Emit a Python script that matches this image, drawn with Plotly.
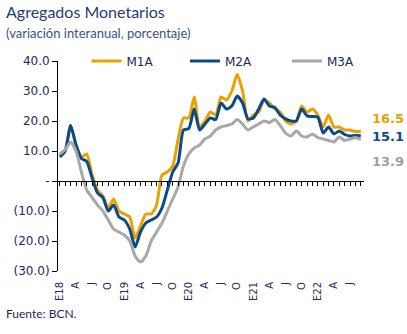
import plotly.graph_objects as go

months = list(range(57))  # Jan 2018 .. Sep 2022, monthly index
tick_pos = list(range(0, 57, 3))
tick_text = ["E18", "A", "J", "O", "E19", "A", "J", "O", "E20", "A", "J", "O",
             "E21", "A", "J", "O", "E22", "A", "J"]

m1a = [8.5, 10.5, 18.5, 12, 8, 9, 2, -3, -5, -9, -6, -10, -11, -12, -19, -15,
       -11, -11, -8, 2, 3, 5, 14, 21, 21, 28, 18, 20, 23, 22, 28, 27, 30, 35.5,
       30, 20, 22, 23, 27, 26, 24, 23, 20, 19, 20, 25, 23, 24, 22, 18, 22, 18,
       18, 17, 17, 16.5, 16.5]
m2a = [8, 10, 18.5, 12, 7.5, 6.5, 1, -4, -5.5, -10, -8, -12, -13, -16, -22,
       -17, -14, -13, -12, -9, -3, 3, 6, 17, 17.5, 24, 17, 19, 21, 20.5, 26,
       24, 25, 28.3, 26, 20.7, 21, 24, 27.3, 25, 24.5, 22, 20.7, 20, 20, 24,
       21.7, 21.5, 21.3, 16, 18, 15.7, 16.7, 15.5, 15, 15.2, 15.1]
m3a = [9, 10.5, 13, 10, 3, -3, -5.5, -8, -10, -13, -16, -17, -18, -20, -25,
       -27, -25, -20, -17, -14, -10, -6, -2, 5, 9, 11, 12, 14, 15, 17, 18,
       18.5, 19, 20.5, 19, 17, 18, 19, 20, 19.5, 20.5, 18.5, 16, 15, 16.7, 15,
       14.7, 15.7, 14.5, 14, 13.5, 13, 14.7, 13.5, 14, 14.5, 13.9]

series = [("M1A", m1a, "#E8A202", "legend", 0.093),
          ("M2A", m2a, "#0B4A8A", "legend2", 0.415),
          ("M3A", m3a, "#A8A8A8", "legend3", 0.748)]
end_labels = [("16.5", 20.7, "#E8A202"), ("15.1", 15.0, "#0B4A8A"), ("13.9", 6.5, "#A0A0A0")]

y_ticks = [40, 30, 20, 10, 0, -10, -20, -30]
y_text = ["40.0", "30.0", "20.0", "10.0", "-", "(10.0)", "(20.0)", "(30.0)"]

NAVY = "#1B2A5A"

fig = go.Figure()
legend_layouts = {}
for name, vals, col, lg, lx in series:
    fig.add_trace(go.Scatter(x=months, y=vals, name=name, mode="lines", legend=lg,
                             line=dict(color=col, width=3, shape="spline", smoothing=0.6)))
    legend_layouts[lg] = dict(orientation="h", x=lx, y=1.0, xanchor="left", yanchor="middle",
                              font=dict(family="DejaVu Sans", size=12, color=NAVY),
                              bgcolor="rgba(0,0,0,0)")
# invisible trace carrying the zero-line axis with monthly ticks
fig.add_trace(go.Scatter(x=[0, 56], y=[0, 0], xaxis="x2", mode="lines",
                         line=dict(width=0), showlegend=False, hoverinfo="skip"))

for txt, yv, col in end_labels:
    fig.add_annotation(x=1.02, xref="paper", y=yv, yref="y", text="<b>" + txt + "</b>",
                       showarrow=False, xanchor="left",
                       font=dict(family="DejaVu Sans", size=13, color=col))

fig.add_annotation(text="Agregados Monetarios", xref="paper", yref="paper",
                   x=-0.175, y=1.235, xanchor="left", yanchor="middle", showarrow=False,
                   font=dict(family="Lato", size=16, color="#1F3C78"))
fig.add_annotation(text="(variación interanual, porcentaje)", xref="paper", yref="paper",
                   x=-0.175, y=1.135, xanchor="left", yanchor="middle", showarrow=False,
                   font=dict(family="Lato", size=13, color="#3A5285"))
fig.add_annotation(text="Fuente: BCN.", xref="paper", yref="paper", x=-0.175, y=-0.2,
                   xanchor="left", yanchor="middle", showarrow=False,
                   font=dict(family="Lato", size=12, color=NAVY))

fig.update_layout(
    width=407, height=334,
    margin=dict(l=58, r=43, t=61, b=63),
    paper_bgcolor="white", plot_bgcolor="white",
    showlegend=True,
    xaxis=dict(range=[-0.35, 56.6], tickmode="array", tickvals=tick_pos, ticktext=tick_text,
               tickangle=-90, showline=False, showgrid=False, zeroline=False, ticks="",
               ticklabelstandoff=8,
               tickfont=dict(family="DejaVu Sans", size=10, color=NAVY)),
    xaxis2=dict(range=[-0.35, 56.6], overlaying="x", anchor="free", position=30/70,
                side="bottom", showline=True, linecolor="black", linewidth=1,
                ticks="outside", ticklen=4, tickcolor="black", tickwidth=1,
                tickmode="linear", tick0=0, dtick=1, showticklabels=False,
                showgrid=False, zeroline=False),
    yaxis=dict(range=[-30, 40], tickvals=y_ticks, ticktext=y_text, showline=True,
               linecolor="black", linewidth=1, ticks="outside", ticklen=5,
               tickcolor="black", showgrid=False, zeroline=False,
               tickfont=dict(family="DejaVu Sans", size=12, color=NAVY)),
    **legend_layouts,
)
fig.write_html("out.html")
